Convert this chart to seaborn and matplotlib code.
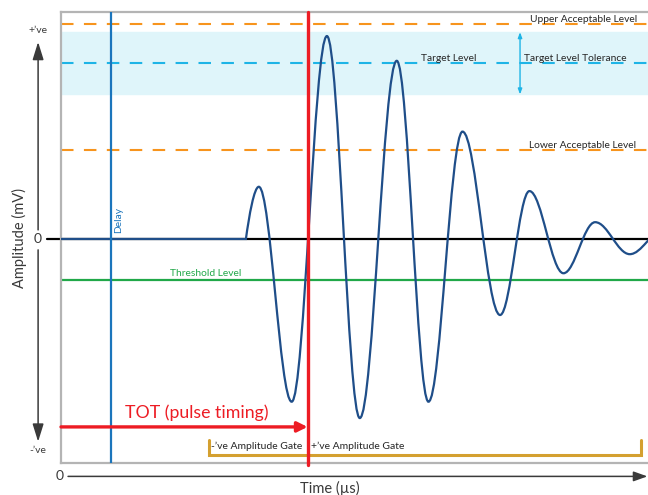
import numpy as np
import pandas as pd
import seaborn as sns
import matplotlib.pyplot as plt
from matplotlib.path import Path
from matplotlib.patches import PathPatch

# turning points of the pulse (time in us, amplitude in mV)
wave_t = [0, 31.5, 33.7, 39.3, 45.3, 50.9, 57.2, 62.6, 68.4, 74.8, 79.8, 85.6, 91.0, 96.9, 102.5]
wave_a = [0, 0, 23.0, -71.7, 89.4, -78.9, 78.5, -71.7, 47.3, -33.5, 21.1, -15.1, 7.4, -6.7, 3.5]

# reference levels
upper_level = 94.6
target_level = 77.7
lower_level = 39.2
threshold_level = -18.2
tolerance_band = [63.7, 91.1]

# timing markers
delay_t = 8.6
tot_t = 42.0
gate_t = [25.2, 98.8]
gate_a = [-95.2, -88.5]

sns.set_theme(style="white")
plt.rcParams['font.family'] = ['Lato', 'DejaVu Sans']

navy = "#1f4e89"
orange = "#f7941d"
cyan = "#1eb4e6"
green = "#21a849"
blue = "#1b75bc"
red = "#ed1c24"
gold = "#d4a030"
dark = "#3a3a3a"

fig = plt.figure(figsize=(6.48, 4.95), dpi=100)
ax = fig.add_axes([61/648, 1 - 463/495, 1 - 61/648, (463 - 12)/495])
ax.set_xlim(0, 100)
ax.set_ylim(-98.7, 100)
ax.set_xticks([])
ax.set_yticks([])
for side in ["left", "top", "bottom"]:
    ax.spines[side].set_color("#b4b4b4")
    ax.spines[side].set_linewidth(1.6)
ax.spines["right"].set_visible(False)

# target tolerance band
ax.axhspan(tolerance_band[0], tolerance_band[1], color="#dff5fa", zorder=0)

# dashed acceptable / target levels
dash = (0, (6, 5))
ax.axhline(upper_level, color=orange, lw=1.5, ls=dash, zorder=1)
ax.axhline(lower_level, color=orange, lw=1.5, ls=dash, zorder=1)
ax.axhline(target_level, color=cyan, lw=1.5, ls=dash, zorder=1)

# zero line and threshold
sns.lineplot(x=[-2.4, 100], y=[0, 0], color="black", lw=1.6, ax=ax, zorder=2).lines[-1].set_clip_on(False)
sns.lineplot(x=[0, 100], y=[threshold_level, threshold_level], color=green, lw=1.6, ax=ax, zorder=2)

# waveform
verts = [(wave_t[0], wave_a[0]), (wave_t[1], wave_a[1])]
codes = [Path.MOVETO, Path.LINETO]
for i in range(1, len(wave_t) - 1):
    t0, a0 = wave_t[i], wave_a[i]
    t1, a1 = wave_t[i + 1], wave_a[i + 1]
    dt = t1 - t0
    if i == 1:
        c1 = (t0 + 0.25 * dt, a0 + 0.45 * (a1 - a0))
    else:
        c1 = (t0 + 0.36 * dt, a0)
    c2 = (t1 - 0.36 * dt, a1)
    verts += [c1, c2, (t1, a1)]
    codes += [Path.CURVE4] * 3
ax.add_patch(PathPatch(Path(verts, codes), fill=False, edgecolor=navy, lw=1.6, zorder=3))

# delay and TOT markers
ax.axvline(delay_t, color=blue, lw=1.6, zorder=4)
ax.plot([tot_t, tot_t], [100, -99.8], color=red, lw=2.4, zorder=5, clip_on=False)
ax.annotate("", xy=(tot_t, -82.8), xytext=(0, -82.8),
            arrowprops=dict(arrowstyle="-|>,head_length=0.6,head_width=0.3", color=red, lw=2.4,
                            shrinkA=0, shrinkB=0, mutation_scale=10), zorder=5)

# amplitude gates
ax.plot([gate_t[0], gate_t[0], gate_t[1], gate_t[1]], [gate_a[1], gate_a[0], gate_a[0], gate_a[1]],
        color=gold, lw=2.2, zorder=4, solid_joinstyle="miter")

# tolerance double arrow
ax.annotate("", xy=(78.2, tolerance_band[1]), xytext=(78.2, tolerance_band[0]),
            arrowprops=dict(arrowstyle="<|-|>,head_length=0.4,head_width=0.15", color=cyan, lw=1.0,
                            shrinkA=0, shrinkB=0, mutation_scale=8), zorder=4)

# labels inside the plot
lab = dict(fontsize=7.4, color="#262626", va="center", ha="left", zorder=6)
ax.text(79.9, 96.5, "Upper Acceptable Level", **lab)
ax.text(61.3, 79.7, "Target Level", **lab)
ax.text(78.9, 79.7, "Target Level Tolerance", **lab)
ax.text(79.7, 41.4, "Lower Acceptable Level", **lab)
ax.text(18.6, -15.0, "Threshold Level", fontsize=7.4, color=green, va="center", ha="left")
ax.text(9.9, 2.6, "Delay", fontsize=7.4, color=blue, rotation=90, va="bottom", ha="center")
ax.text(10.9, -76.7, "TOT (pulse timing)", fontsize=12.8, color=red, va="center", ha="left")
ax.text(25.6, -91.2, "-’ve Amplitude Gate", fontsize=7.5, color="#262626", va="center", ha="left")
ax.text(42.6, -91.2, "+’ve Amplitude Gate", fontsize=7.5, color="#262626", va="center", ha="left")

# outer amplitude axis
arrow = dict(arrowstyle="-|>,head_length=0.9,head_width=0.28", color=dark, lw=1.1,
             shrinkA=0, shrinkB=0, mutation_scale=12)
ax.annotate("", xy=(-3.9, 86.8), xytext=(-3.9, 4.0), arrowprops=arrow, annotation_clip=False)
ax.annotate("", xy=(-3.9, -89.3), xytext=(-3.9, -4.8), arrowprops=arrow, annotation_clip=False)
ax.text(-3.9, 0, "0", fontsize=10, color=dark, ha="center", va="center", clip_on=False)
ax.text(-3.9, 90.0, "+’ve", fontsize=7.5, color=dark, ha="center", va="bottom", clip_on=False)
ax.text(-3.9, -93.0, "-’ve", fontsize=7.5, color=dark, ha="center", va="center", clip_on=False)
ax.text(-7.0, 0.4, "Amplitude (mV)", fontsize=10.5, color=dark, rotation=90, ha="center", va="center",
        clip_on=False)

# outer time axis
time_arrow = dict(arrowstyle="-|>,head_length=0.7,head_width=0.25", color=dark, lw=1.1,
                  shrinkA=0, shrinkB=0, mutation_scale=12)
ax.annotate("", xy=(99.9, -104.6), xytext=(1.2, -104.6), arrowprops=time_arrow, annotation_clip=False)
ax.text(-0.2, -104.6, "0", fontsize=10, color=dark, ha="center", va="center", clip_on=False)
ax.text(45.8, -110.0, "Time (µs)", fontsize=10.5, color=dark, ha="center", va="center", clip_on=False)

fig.savefig("out.png", dpi=100)
